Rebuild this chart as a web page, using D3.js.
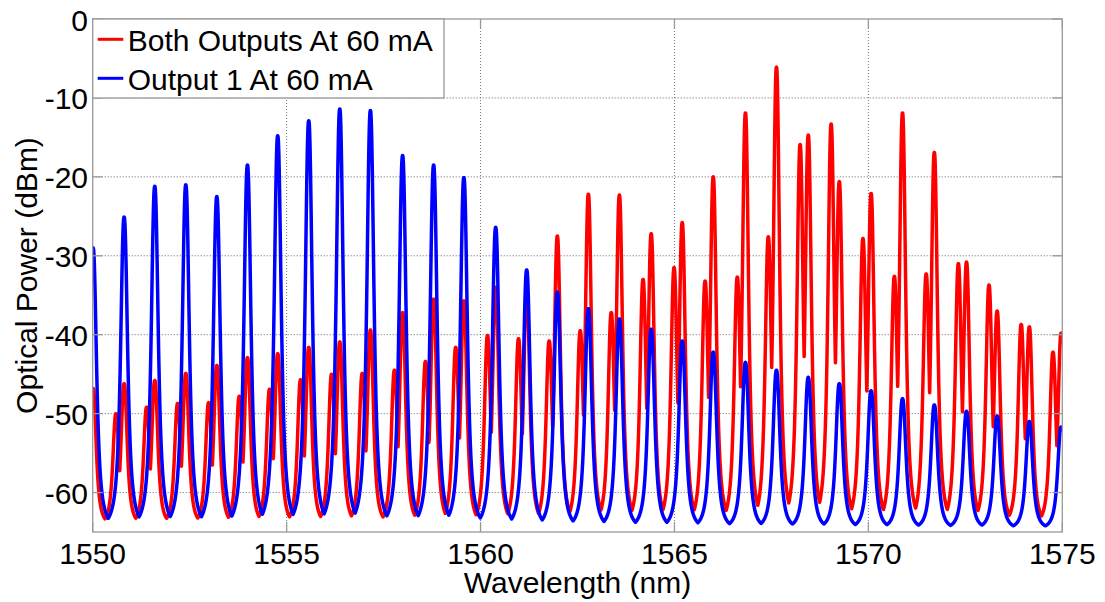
<!DOCTYPE html>
<html>
<head>
<meta charset="utf-8">
<script src="https://cdn.jsdelivr.net/npm/d3@7"></script>
<style>
  html, body { margin: 0; padding: 0; background: #fff; }
  svg { display: block; }
  text { font-family: "Liberation Sans", Arial, sans-serif; fill: #000; }
</style>
</head>
<body>
<svg id="chart" width="1105" height="602"></svg>
<script>
// ---------------- data ----------------
const seriesNames = ["Both Outputs At 60 mA", "Output 1 At 60 mA"];
const seriesColors = ["#ff0000", "#0000ff"];

// longitudinal mode wavelengths (nm)
const modeCenters = [
  1550.01, 1550.81, 1551.60, 1552.40, 1553.20, 1553.99, 1554.77, 1555.57,
  1556.37, 1557.16, 1557.99, 1558.79, 1559.57, 1560.39, 1561.19, 1561.98,
  1562.78, 1563.58, 1564.40, 1565.20, 1566.00, 1566.83, 1567.63, 1568.45,
  1569.25, 1570.07, 1570.88, 1571.70, 1572.53, 1573.32, 1574.15, 1574.97
];
// Output 1 peak powers (dBm)
const output1Peaks = [
  -29.0, -25.1, -21.2, -21.0, -22.5, -18.5, -14.8, -12.9,
  -11.4, -11.6, -17.3, -18.5, -20.1, -26.4, -31.8, -34.6,
  -36.7, -38.0, -39.3, -40.8, -42.2, -43.5, -44.5, -45.4,
  -46.2, -47.1, -48.1, -48.9, -49.7, -50.3, -51.0, -51.7
];
// Both outputs: main peak at each mode (dBm)
const bothMainPeaks = [
  -46.8, -46.2, -45.8, -44.9, -43.9, -42.9, -42.4, -41.6,
  -40.9, -39.4, -37.2, -35.5, -35.7, -34.0, -34.5, -27.5,
  -22.2, -22.3, -27.2, -25.8, -20.0, -11.9, -6.1, -14.7,
  -20.6, -22.1, -11.9, -16.9, -30.8, -37.0, -39.0, -39.8
];
// Both outputs: side peak just below each mode (dBm)
const bothSidePeaks = [
  -50.5, -50.0, -49.2, -48.7, -48.6, -47.8, -46.9, -45.7,
  -45.0, -44.9, -44.5, -43.4, -41.6, -40.1, -40.5, -40.8,
  -39.5, -37.2, -33.0, -31.5, -33.2, -32.7, -27.6, -15.9,
  -13.3, -27.8, -32.6, -32.3, -31.0, -33.7, -38.7, -42.2
];
const sideOffset = 0.21;          // nm, side peak sits below the mode
const floorBoth = -64.3;          // dBm noise floor
const floorOutput1 = -64.7;
const widthBoth = 0.094;          // nm, line half-width parameter
const widthOutput1 = 0.104;

const xTicks = [1550, 1555, 1560, 1565, 1570, 1575];
const yTicks = [0, -10, -20, -30, -40, -50, -60];
const xDomain = [1550, 1575];
const yDomain = [-65, 0];

// ---------------- layout ----------------
const L = 92.7, R = 1062.3, T = 19, B = 532;
const svg = d3.select("#chart");
const x = d3.scaleLinear().domain(xDomain).range([L, R]);
const y = d3.scaleLinear().domain(yDomain).range([B, T]);

// spectral line shape (peak level above floor, falling off with detuning)
const P = 2.4;
function lineShape(d, w) { return 1 / (1 + Math.pow(Math.abs(d) / w, P)); }
function trace(peaks, floor, w) {
  const pts = [];
  const lam = d3.range(xDomain[0], xDomain[1] + 1e-9, 0.0025);
  lam.forEach(l => {
    let v = floor;
    peaks.forEach(pk => {
      const d = l - pk.c;
      if (Math.abs(d) < 1.2) {
        const val = floor + (pk.p - floor) * lineShape(d, w);
        if (val > v) v = val;
      }
    });
    pts.push([l, v]);
  });
  peaks.forEach(pk => {
    if (pk.c >= xDomain[0] && pk.c <= xDomain[1]) pts.push([pk.c, pk.p]);
  });
  pts.sort((a, b) => a[0] - b[0]);
  return pts;
}
const bothPeaks = [];
modeCenters.forEach((c, i) => {
  bothPeaks.push({ c: c, p: bothMainPeaks[i] });
  bothPeaks.push({ c: c - sideOffset, p: bothSidePeaks[i] });
});
const out1Peaks = modeCenters.map((c, i) => ({ c: c, p: output1Peaks[i] }));
const bothTrace = trace(bothPeaks, floorBoth, widthBoth);
const out1Trace = trace(out1Peaks, floorOutput1, widthOutput1);

// ---------------- grid ----------------
const grid = svg.append("g");
grid.selectAll(".gx").data(xTicks.slice(1, -1)).join("line")
  .attr("x1", d => x(d)).attr("x2", d => x(d))
  .attr("y1", T).attr("y2", B)
  .attr("stroke", "#777").attr("stroke-width", 1).attr("stroke-dasharray", "1,2");
grid.selectAll(".gy").data(yTicks.slice(1)).join("line")
  .attr("x1", L).attr("x2", R)
  .attr("y1", d => y(d)).attr("y2", d => y(d))
  .attr("stroke", "#666").attr("stroke-width", 1).attr("stroke-dasharray", "1,2");

// ---------------- series ----------------
svg.append("clipPath").attr("id", "clip").append("rect")
  .attr("x", L).attr("y", T).attr("width", R - L).attr("height", B - T);
const line = d3.line().x(d => x(d[0])).y(d => y(d[1]));
const plot = svg.append("g").attr("clip-path", "url(#clip)");
plot.append("path").datum(bothTrace).attr("d", line)
  .attr("fill", "none").attr("stroke", seriesColors[0]).attr("stroke-width", 3.5)
  .attr("stroke-linejoin", "round");
plot.append("path").datum(out1Trace).attr("d", line)
  .attr("fill", "none").attr("stroke", seriesColors[1]).attr("stroke-width", 3.5)
  .attr("stroke-linejoin", "round");

// ---------------- axes box + ticks ----------------
const axisColor = "#999";
svg.append("rect").attr("x", L).attr("y", T).attr("width", R - L).attr("height", B - T)
  .attr("fill", "none").attr("stroke", axisColor).attr("stroke-width", 1.3);
const tickLen = 10;
const tk = svg.append("g").attr("stroke", axisColor).attr("stroke-width", 1.3);
xTicks.forEach(v => {
  tk.append("line").attr("x1", x(v)).attr("x2", x(v)).attr("y1", B).attr("y2", B - tickLen);
  tk.append("line").attr("x1", x(v)).attr("x2", x(v)).attr("y1", T).attr("y2", T + tickLen);
});
yTicks.forEach(v => {
  tk.append("line").attr("x1", L).attr("x2", L + tickLen).attr("y1", y(v)).attr("y2", y(v));
  tk.append("line").attr("x1", R).attr("x2", R - tickLen).attr("y1", y(v)).attr("y2", y(v));
});

// tick labels
svg.append("g").selectAll("text").data(xTicks).join("text")
  .attr("x", d => x(d)).attr("y", 563.5)
  .attr("text-anchor", "middle").attr("font-size", 30)
  .text(d => d);
svg.append("g").selectAll("text").data(yTicks).join("text")
  .attr("x", 88).attr("y", d => y(d) + 11.5)
  .attr("text-anchor", "end").attr("font-size", 30)
  .text(d => d);

// axis titles
svg.append("text").attr("x", (L + R) / 2).attr("y", 593)
  .attr("text-anchor", "middle").attr("font-size", 30).text("Wavelength (nm)");
svg.append("text").attr("transform", `translate(37,${(T + B) / 2}) rotate(-90)`)
  .attr("text-anchor", "middle").attr("font-size", 30).text("Optical Power (dBm)");

// ---------------- legend ----------------
const lg = svg.append("g");
lg.append("rect").attr("x", L).attr("y", T).attr("width", 444 - L).attr("height", 98 - T)
  .attr("fill", "#fff").attr("stroke", axisColor).attr("stroke-width", 1.3);
const legendRows = [39.3, 78.3];
seriesNames.forEach((name, i) => {
  lg.append("line").attr("x1", 97.7).attr("x2", 123.3)
    .attr("y1", legendRows[i]).attr("y2", legendRows[i])
    .attr("stroke", seriesColors[i]).attr("stroke-width", 3);
  lg.append("text").attr("x", 127.7).attr("y", legendRows[i] + 11.5)
    .attr("font-size", 30).text(name);
});
</script>
</body>
</html>
